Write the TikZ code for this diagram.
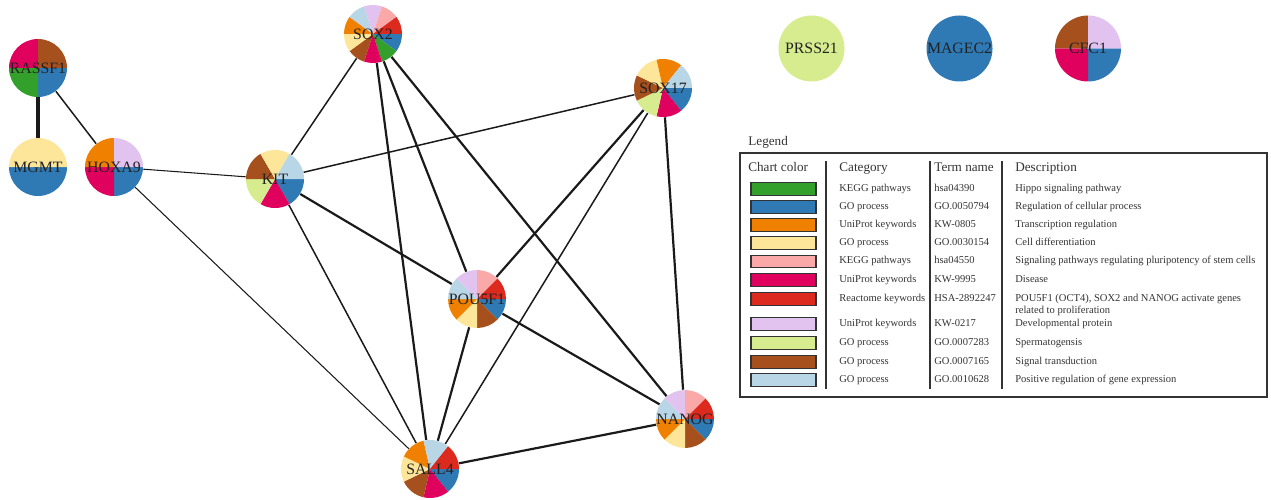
\documentclass[tikz,border=0pt]{standalone}
\usepackage{fontspec}
\setmainfont{Liberation Serif}
\usetikzlibrary{backgrounds}

\definecolor{cgreen}{RGB}{51,160,44}
\definecolor{cblue}{RGB}{47,121,181}
\definecolor{corange}{RGB}{240,128,0}
\definecolor{cyellow}{RGB}{253,230,153}
\definecolor{cpink}{RGB}{251,168,168}
\definecolor{cmagenta}{RGB}{224,1,94}
\definecolor{cred}{RGB}{220,42,30}
\definecolor{clavender}{RGB}{226,194,238}
\definecolor{clgreen}{RGB}{215,236,142}
\definecolor{cbrown}{RGB}{166,80,30}
\definecolor{clblue}{RGB}{184,214,230}
\definecolor{edgecol}{RGB}{26,26,26}
\definecolor{labelcol}{RGB}{34,34,34}
\definecolor{legcol}{RGB}{51,51,51}

% pie slices clockwise from 3 o'clock
\newcommand{\piechart}[3]{%
  \foreach \c [count=\k] in {#3}{\xdef\nslice{\k}}
  \foreach \c [count=\k] in {#3}{
    \fill[\c] (#1) -- ++({-(\k-1)*360/\nslice}:#2)
      arc[start angle={-(\k-1)*360/\nslice}, delta angle={-360/\nslice}, radius=#2] -- cycle;
  }}

\begin{document}
\begin{tikzpicture}[
    x=0.02cm, y=0.02cm,
    gene/.style={circle, inner sep=0pt, minimum size=1.16cm, text=labelcol, font=\fontsize{9}{10}\selectfont},
    big gene/.style={gene, minimum size=1.32cm},
    link/.style={draw=edgecol},
    weak link/.style={link, line width=0.6pt},
    light link/.style={link, line width=0.85pt},
    strong link/.style={link, line width=1.25pt},
    heavy link/.style={link, line width=1.9pt},
    legtitle/.style={anchor=base west, inner sep=0pt, text=legcol, font=\fontsize{7.5}{9}\selectfont},
    legheader/.style={anchor=base west, inner sep=0pt, text=legcol, font=\fontsize{7.5}{9}\selectfont},
    legtext/.style={anchor=base west, inner sep=0pt, text=legcol, font=\fontsize{6}{7.1}\selectfont},
    swatch/.style={rectangle, draw=legcol, line width=0.7pt, minimum width=1.3cm, minimum height=0.25cm, inner sep=0pt},
    legrule/.style={draw=legcol, line width=0.6pt}
]
\useasboundingbox (0,0) rectangle (1271,-500);

% pies
\piechart{38,-68}{29}{cblue,cgreen,cmagenta,cbrown}
\piechart{38,-167}{29}{cblue,cyellow}
\piechart{114,-167}{29}{cblue,cmagenta,corange,clavender}
\piechart{373,-34}{29}{cblue,cgreen,cmagenta,cbrown,cyellow,corange,clblue,clavender,cpink,cred}
\piechart{275,-179}{29}{cblue,cmagenta,clgreen,cbrown,cyellow,clblue}
\piechart{663,-88}{29}{cblue,cmagenta,clgreen,cbrown,cyellow,corange,clblue}
\piechart{477,-299}{29}{cblue,cbrown,cyellow,corange,clblue,clavender,cpink,cred}
\piechart{685,-419}{29}{cblue,cbrown,cyellow,corange,clblue,clavender,cpink,cred}
\piechart{430,-469}{29}{cblue,cmagenta,cbrown,cyellow,corange,clblue,cred}
\piechart{811.5,-48.5}{33}{clgreen}
\piechart{959.5,-48.5}{33}{cblue}
\piechart{1088,-48.5}{33}{cblue,cmagenta,cbrown,clavender}

% genes
\node[gene] (rassf1) at (38,-68) {RASSF1};
\node[gene] (mgmt) at (38,-167) {MGMT};
\node[gene] (hoxa9) at (114,-167) {HOXA9};
\node[gene] (sox2) at (373,-34) {SOX2};
\node[gene] (kit) at (275,-179) {KIT};
\node[gene] (sox17) at (663,-88) {SOX17};
\node[gene] (pou5f1) at (477,-299) {POU5F1};
\node[gene] (nanog) at (685,-419) {NANOG};
\node[gene] (sall4) at (430,-469) {SALL4};
\node[big gene] (prss21) at (811.5,-48.5) {PRSS21};
\node[big gene] (magec2) at (959.5,-48.5) {MAGEC2};
\node[big gene] (cfc1) at (1088,-48.5) {CFC1};

% interactions
\begin{scope}[on background layer]
\draw[heavy link] (rassf1) -- (mgmt);
\draw[light link] (rassf1) -- (hoxa9);
\draw[weak link] (hoxa9) -- (kit);
\draw[weak link] (hoxa9) -- (sall4);
\draw[light link] (kit) -- (sox2);
\draw[light link] (kit) -- (sox17);
\draw[strong link] (kit) -- (pou5f1);
\draw[light link] (kit) -- (sall4);
\draw[strong link] (sox2) -- (pou5f1);
\draw[strong link] (sox2) -- (sall4);
\draw[strong link] (sox2) -- (nanog);
\draw[strong link] (sox17) -- (pou5f1);
\draw[light link] (sox17) -- (sall4);
\draw[strong link] (sox17) -- (nanog);
\draw[strong link] (pou5f1) -- (sall4);
\draw[strong link] (pou5f1) -- (nanog);
\draw[strong link] (sall4) -- (nanog);
\end{scope}

% legend
\node[legtitle] (legend) at (748,-146) {Legend};
\draw[legcol, line width=0.75pt] (740,-153) rectangle (1267,-397);
\node[legheader] (hcolor) at (748,-171.5) {Chart color};
\node[legheader] (hcat) at (839,-171.5) {Category};
\node[legheader] (hterm) at (934,-171.5) {Term name};
\node[legheader] (hdesc) at (1015,-171.5) {Description};
\draw[legrule] (826,-161) -- (826,-389);
\draw[legrule] (930,-161) -- (930,-389);
\draw[legrule] (1002,-161) -- (1002,-389);

\foreach \y/\col/\cat/\term/\desc [count=\k] in {
    189/cgreen/KEGG pathways/hsa04390/Hippo signaling pathway,
    207/cblue/GO process/GO.0050794/Regulation of cellular process,
    225/corange/UniProt keywords/KW-0805/Transcription regulation,
    243/cyellow/GO process/GO.0030154/Cell differentiation,
    261.5/cpink/KEGG pathways/hsa04550/Signaling pathways regulating pluripotency of stem cells,
    280/cmagenta/UniProt keywords/KW-9995/Disease,
    299/cred/Reactome keywords/HSA-2892247/{\vtop{\hbox{POU5F1 (OCT4), SOX2 and NANOG activate genes}\hbox{related to proliferation}}},
    324/clavender/UniProt keywords/KW-0217/Developmental protein,
    343/clgreen/GO process/GO.0007283/Spermatogensis,
    362/cbrown/GO process/GO.0007165/Signal transduction,
    380/clblue/GO process/GO.0010628/Positive regulation of gene expression}{
  \node[swatch, fill=\col] (sw\k) at (783.5,-\y) {};
  \node[legtext] (cat\k) at (839,{-\y-2.2}) {\cat};
  \node[legtext] (term\k) at (934,{-\y-2.2}) {\term};
  \node[legtext] (desc\k) at (1015,{-\y-2.2}) {\desc};
}

\end{tikzpicture}
\end{document}
